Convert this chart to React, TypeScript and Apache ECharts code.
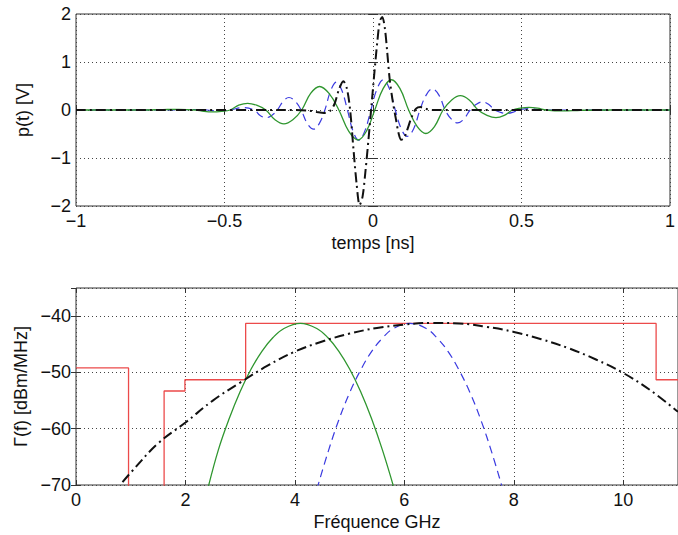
import { useEffect, useRef } from "react";
import * as echarts from "echarts";

// ---------- Top panel: pulses p(t) (t in ns, value in V) ----------
const blackPulse: [number, number][] = [
  [-1, 0], [-0.3, 0], [-0.22, -0.01], [-0.19, -0.04], [-0.165, -0.06], [-0.145, -0.02],
  [-0.13, 0.12], [-0.115, 0.42], [-0.1, 0.6], [-0.088, 0.45], [-0.077, 0.0], [-0.066, -0.8],
  [-0.055, -1.55], [-0.045, -1.98], [-0.035, -1.8], [-0.025, -1.25], [-0.015, -0.6],
  [-0.005, 0.1], [0.005, 0.8], [0.015, 1.45], [0.023, 1.85], [0.031, 1.94], [0.04, 1.7],
  [0.048, 1.2], [0.056, 0.65], [0.066, 0.2], [0.076, -0.15], [0.086, -0.48], [0.095, -0.62],
  [0.105, -0.58], [0.115, -0.42], [0.13, -0.15], [0.145, 0.03], [0.16, 0.06], [0.175, 0.03],
  [0.2, 0], [1, 0],
];

const bluePulse: [number, number][] = [
  [-1, 0], [-0.7, 0], [-0.6, 0.01], [-0.56, 0], [-0.52, -0.02], [-0.48, 0], [-0.44, 0.05],
  [-0.4, 0], [-0.38, -0.113], [-0.36, -0.16], [-0.341, -0.113], [-0.322, 0], [-0.302, 0.184],
  [-0.283, 0.26], [-0.262, 0.184], [-0.242, 0], [-0.221, -0.283], [-0.2, -0.4], [-0.181, -0.283],
  [-0.162, 0], [-0.142, 0.41], [-0.123, 0.58], [-0.105, 0.41], [-0.086, 0], [-0.067, -0.445],
  [-0.048, -0.63], [-0.028, -0.445], [-0.007, 0], [0.014, 0.445], [0.035, 0.63], [0.055, 0.445],
  [0.075, 0], [0.095, -0.39], [0.115, -0.55], [0.137, -0.39], [0.158, 0], [0.179, 0.311],
  [0.2, 0.44], [0.222, 0.311], [0.243, 0], [0.264, -0.19], [0.285, -0.27], [0.306, -0.19],
  [0.327, 0], [0.348, 0.12], [0.368, 0.17], [0.389, 0.12], [0.41, 0], [0.43, -0.05],
  [0.45, -0.07], [0.47, -0.05], [0.49, 0], [0.53, 0.03], [0.57, 0], [0.7, 0], [1, 0],
];

const greenPulse: [number, number][] = [
  [-1, 0], [-0.8, 0], [-0.72, 0.005], [-0.655, 0.015], [-0.598, 0], [-0.569, -0.028],
  [-0.54, -0.04], [-0.51, -0.028], [-0.481, 0], [-0.452, 0.1], [-0.422, 0.14], [-0.392, 0.1],
  [-0.361, 0], [-0.33, -0.205], [-0.3, -0.29], [-0.27, -0.205], [-0.24, 0], [-0.21, 0.345],
  [-0.18, 0.49], [-0.148, 0.345], [-0.115, 0], [-0.082, -0.44], [-0.05, -0.625], [-0.022, -0.44],
  [0.006, 0], [0.034, 0.445], [0.062, 0.63], [0.091, 0.445], [0.12, 0], [0.149, -0.345],
  [0.178, -0.49], [0.207, -0.345], [0.236, 0], [0.265, 0.21], [0.294, 0.3], [0.324, 0.21],
  [0.354, 0], [0.384, -0.113], [0.414, -0.16], [0.442, -0.113], [0.47, 0], [0.497, 0.039],
  [0.525, 0.055], [0.554, 0.039], [0.583, 0], [0.64, -0.02], [0.7, -0.005], [0.8, 0], [1, 0],
];

// ---------- Bottom panel: spectra (GHz, dBm/MHz) ----------
const fccMask: [number, number][] = [
  [0, -49.2], [0.96, -49.2], [0.96, -75.3], [1.61, -75.3], [1.61, -53.3], [1.99, -53.3],
  [1.99, -51.3], [3.1, -51.3], [3.1, -41.3], [10.6, -41.3], [10.6, -51.3], [11, -51.3],
];

const blackPsd: [number, number][] = [
  [0.85, -69.5], [1.0, -67.8], [1.5, -62.6], [2.0, -58.9], [2.5, -55.0], [3.0, -51.8],
  [3.5, -48.8], [4.0, -46.3], [4.5, -44.5], [5.0, -43.1], [5.5, -42.1], [6.0, -41.5],
  [6.5, -41.2], [7.0, -41.3], [7.5, -41.9], [8.0, -42.8], [8.5, -44.1], [9.0, -45.7],
  [9.5, -47.7], [10.0, -50.1], [10.5, -53.2], [11.0, -57.0],
];

const greenPsd: [number, number][] = [
  [2.4, -71.0], [2.6, -63.8], [2.8, -58.2], [3.0, -53.4], [3.2, -49.4], [3.4, -46.2],
  [3.6, -43.8], [3.8, -42.2], [4.1, -41.3], [4.4, -42.2], [4.6, -43.8], [4.8, -46.2],
  [5.0, -49.4], [5.2, -53.4], [5.4, -58.2], [5.6, -63.8], [5.8, -70.2],
];

const bluePsd: [number, number][] = [
  [4.4, -70.8], [4.6, -64.3], [4.8, -58.5], [5.0, -53.6], [5.2, -49.6], [5.4, -46.3],
  [5.6, -43.9], [5.8, -42.2], [6.1, -41.3], [6.4, -42.2], [6.6, -43.9], [6.8, -46.3],
  [7.0, -49.6], [7.2, -53.6], [7.4, -58.5], [7.6, -64.3], [7.8, -70.8],
];

const FONT = "'Liberation Sans', Arial, Helvetica, sans-serif";

export default function App() {
  const ref = useRef<HTMLDivElement>(null);
  useEffect(() => {
    document.body.style.margin = "0";
    const chart = echarts.init(ref.current!, undefined, { renderer: "svg" });
    const fmt = (v: number) => (v < 0 ? "\u2212" + String(Math.abs(v)) : String(v));
    const labelStyle = { fontSize: 18, color: "#111", fontFamily: FONT, formatter: fmt };
    const nameStyle = { fontSize: 18, color: "#111", fontFamily: FONT };
    const tick = { inside: true, length: 5, lineStyle: { color: "#333", width: 1 } };
    const split = { show: true, lineStyle: { color: "#444", type: [1, 3] as number[], width: 1 } };

    const mainX = (grid: number, min: number, max: number, interval: number, name: string) => ({
      type: "value", gridIndex: grid, min, max, interval, position: "bottom",
      axisLine: { show: false }, axisTick: tick,
      axisLabel: { ...labelStyle, margin: 6, showMaxLabel: grid === 0 },
      splitLine: split, name, nameLocation: "middle", nameGap: 28, nameTextStyle: nameStyle,
    });
    const mainY = (grid: number, min: number, max: number, interval: number, name: string) => ({
      type: "value", gridIndex: grid, min, max, interval, position: "left",
      axisLine: { show: false }, axisTick: tick,
      axisLabel: { ...labelStyle, margin: 5, showMaxLabel: grid === 0 },
      splitLine: split, name, nameLocation: "middle", nameGap: 44, nameTextStyle: nameStyle,
    });
    const sideX = (grid: number, min: number, max: number, interval: number) => ({
      type: "value", gridIndex: grid, min, max, interval, position: "top",
      axisLine: { show: false }, axisTick: tick, axisLabel: { show: false }, splitLine: { show: false },
    });
    const sideY = (grid: number, min: number, max: number, interval: number) => ({
      type: "value", gridIndex: grid, min, max, interval, position: "right",
      axisLine: { show: false }, axisTick: tick, axisLabel: { show: false }, splitLine: { show: false },
    });

    const line = (xi: number, yi: number, data: [number, number][], color: string, width: number, type: any, smooth: any) => ({
      type: "line", xAxisIndex: xi, yAxisIndex: yi, data, showSymbol: false, symbol: "none",
      smooth, clip: true, lineStyle: { color, width, type }, z: 3,
    });

    chart.setOption({
      animation: false,
      backgroundColor: "#fff",
      grid: [
        { left: 76, top: 14, width: 603, height: 192, show: true, borderColor: "#333", borderWidth: 1 },
        { left: 76, top: 288, width: 603, height: 197, show: true, borderColor: "#333", borderWidth: 1 },
      ],
      xAxis: [
        mainX(0, -1, 1, 0.5, "temps [ns]"),
        mainX(1, 0, 11, 2, "Fréquence GHz"),
        sideX(0, -1, 1, 0.5),
        sideX(1, 0, 11, 2),
      ],
      yAxis: [
        mainY(0, -2, 2, 1, "p(t) [V]"),
        mainY(1, -70, -35, 10, "Γ(f) [dBm/MHz]"),
        sideY(0, -2, 2, 1),
        sideY(1, -70, -35, 10),
      ],
      series: [
        line(0, 0, bluePulse, "#3a3ae0", 1.2, [8, 5], 0.4),
        line(0, 0, greenPulse, "#2f962f", 1.3, "solid", 0.4),
        line(0, 0, blackPulse, "#111", 2, [10, 4, 2, 4], 0.3),
        line(1, 1, fccMask, "#ec4a4a", 1.3, "solid", false),
        line(1, 1, greenPsd, "#2f962f", 1.3, "solid", 0.4),
        line(1, 1, bluePsd, "#3a3ae0", 1.2, [8, 5], 0.4),
        line(1, 1, blackPsd, "#111", 2, [10, 4, 2, 4], 0.4),
      ],
    });
    return () => chart.dispose();
  }, []);
  return <div ref={ref} style={{ position: "absolute", left: 0, top: 0, width: 678, height: 535 }} />;
}
